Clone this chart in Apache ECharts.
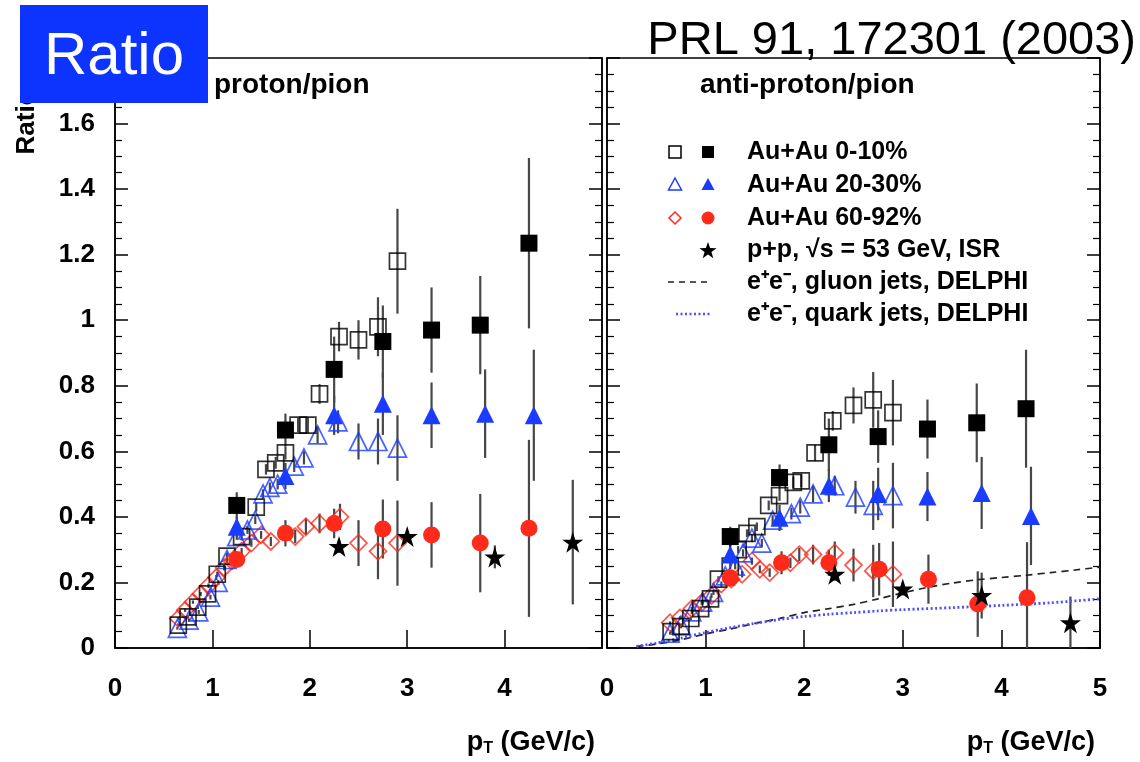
<!DOCTYPE html>
<html><head><meta charset="utf-8">
<script src="https://cdn.jsdelivr.net/npm/echarts/dist/echarts.min.js"></script>
<style>html,body{margin:0;padding:0;background:#fff}#c{width:1140px;height:762px}</style>
</head><body><div id="c"></div>
<script>
// ---------- tick labels ----------
const xTickValues = [0, 1, 2, 3, 4, 5];
const yTickValues = [0, 0.2, 0.4, 0.6, 0.8, 1, 1.2, 1.4, 1.6];

// ---------- proton/pion (left panel): [pT, ratio, error] ----------
const pL_open0010 = [[0.65,0.07,0.005],[0.75,0.095,0.005],[0.85,0.125,0.006],[0.95,0.165,0.007],[1.05,0.225,0.008],[1.15,0.28,0.01],[1.3,0.34,0.012],[1.45,0.43,0.014],[1.55,0.545,0.016],[1.65,0.565,0.018],[1.75,0.595,0.02],[1.88,0.68,0.022],[1.98,0.68,0.025],[2.1,0.775,0.03],[2.3,0.95,0.045],[2.5,0.94,0.06],[2.7,0.98,0.09],[2.9,1.18,0.16]];
const pL_fill0010 = [[1.25,0.435,0.04],[1.75,0.665,0.05],[2.25,0.85,0.1],[2.75,0.935,0.11],[3.25,0.97,0.13],[3.75,0.985,0.15],[4.25,1.235,0.26]];
const pL_open2030 = [[0.64,0.06,0.004],[0.76,0.085,0.005],[0.86,0.11,0.006],[0.98,0.155,0.007],[1.06,0.2,0.008],[1.15,0.27,0.01],[1.25,0.34,0.01],[1.36,0.36,0.012],[1.44,0.39,0.012],[1.52,0.47,0.014],[1.59,0.49,0.015],[1.67,0.5,0.016],[1.84,0.555,0.018],[1.94,0.58,0.02],[2.08,0.65,0.025],[2.29,0.69,0.035],[2.5,0.63,0.055],[2.7,0.63,0.07],[2.9,0.61,0.1]];
const pL_fill2030 = [[1.25,0.37,0.03],[1.75,0.525,0.04],[2.25,0.71,0.06],[2.75,0.745,0.095],[3.25,0.71,0.1],[3.8,0.715,0.135],[4.3,0.71,0.2]];
const pL_open6092 = [[0.65,0.09,0.004],[0.72,0.115,0.005],[0.8,0.14,0.005],[0.88,0.165,0.006],[0.96,0.19,0.007],[1.04,0.215,0.008],[1.12,0.245,0.008],[1.2,0.265,0.009],[1.3,0.295,0.01],[1.4,0.32,0.011],[1.5,0.345,0.012],[1.6,0.325,0.014],[1.85,0.34,0.02],[1.96,0.37,0.025],[2.1,0.38,0.03],[2.31,0.4,0.04],[2.5,0.32,0.07],[2.7,0.295,0.085],[2.9,0.32,0.13]];
const pL_fill6092 = [[1.25,0.27,0.02],[1.75,0.35,0.04],[2.25,0.38,0.045],[2.75,0.363,0.09],[3.25,0.345,0.1],[3.75,0.32,0.15],[4.25,0.365,0.27]];
const pL_pp = [[2.3,0.31,0.02],[3.0,0.34,0.015],[3.9,0.278,0.035],[4.7,0.323,0.19]];

// ---------- anti-proton/pion (right panel) ----------
const pR_open0010 = [[0.65,0.05,0.004],[0.75,0.065,0.005],[0.85,0.09,0.006],[0.95,0.12,0.007],[1.05,0.15,0.008],[1.13,0.21,0.009],[1.25,0.25,0.01],[1.33,0.3,0.011],[1.42,0.35,0.012],[1.52,0.37,0.013],[1.64,0.435,0.015],[1.75,0.465,0.016],[1.89,0.505,0.018],[1.97,0.51,0.02],[2.11,0.595,0.025],[2.29,0.693,0.03],[2.5,0.74,0.055],[2.7,0.757,0.085],[2.9,0.718,0.1]];
const pR_fill0010 = [[1.25,0.34,0.03],[1.75,0.52,0.04],[2.25,0.62,0.08],[2.75,0.645,0.08],[3.25,0.668,0.09],[3.75,0.687,0.12],[4.25,0.73,0.18]];
const pR_open2030 = [[0.64,0.045,0.004],[0.75,0.07,0.005],[0.86,0.11,0.006],[0.97,0.14,0.007],[1.08,0.17,0.008],[1.2,0.22,0.009],[1.3,0.25,0.01],[1.38,0.29,0.011],[1.47,0.335,0.012],[1.57,0.32,0.013],[1.68,0.39,0.015],[1.87,0.41,0.018],[1.96,0.43,0.02],[2.09,0.47,0.025],[2.31,0.495,0.03],[2.52,0.46,0.05],[2.7,0.435,0.075],[2.9,0.465,0.1]];
const pR_fill2030 = [[1.25,0.285,0.03],[1.75,0.397,0.04],[2.25,0.495,0.05],[2.75,0.47,0.08],[3.25,0.462,0.075],[3.8,0.473,0.11],[4.3,0.403,0.15]];
const pR_open6092 = [[0.64,0.077,0.004],[0.74,0.092,0.005],[0.86,0.12,0.005],[0.96,0.138,0.006],[1.06,0.16,0.007],[1.16,0.195,0.008],[1.26,0.21,0.009],[1.37,0.225,0.01],[1.47,0.265,0.011],[1.55,0.24,0.012],[1.65,0.23,0.013],[1.86,0.26,0.016],[1.95,0.285,0.02],[2.09,0.285,0.03],[2.31,0.29,0.035],[2.5,0.253,0.05],[2.7,0.235,0.08],[2.9,0.225,0.1]];
const pR_fill6092 = [[1.25,0.214,0.02],[1.77,0.26,0.035],[2.25,0.26,0.04],[2.76,0.24,0.08],[3.26,0.21,0.075],[3.76,0.134,0.1],[4.26,0.153,0.17]];
const pR_pp = [[2.31,0.225,0.02],[3.0,0.18,0.02],[3.8,0.16,0.07],[4.7,0.077,0.08]];
const gluonJets = [[0.3,0.005],[0.5,0.012],[0.75,0.025],[1.0,0.043],[1.25,0.058],[1.5,0.075],[1.75,0.09],[2.0,0.108],[2.25,0.12],[2.5,0.133],[2.75,0.15],[3.0,0.168],[3.25,0.185],[3.5,0.198],[3.75,0.208],[4.0,0.215],[4.25,0.222],[4.5,0.23],[4.75,0.238],[5.0,0.247]];
const quarkJets = [[0.3,0.005],[0.5,0.015],[0.75,0.03],[1.0,0.047],[1.25,0.062],[1.5,0.075],[1.75,0.087],[2.0,0.096],[2.25,0.103],[2.5,0.108],[2.75,0.113],[3.0,0.117],[3.5,0.123],[4.0,0.13],[4.5,0.138],[5.0,0.15]];

// ---------- style ----------
const FONT = '"Liberation Sans", Arial, Helvetica, sans-serif';
const BLACK = '#000000', BLUE = '#1a3cff', RED = '#ff2a1a', ERRC = '#474747';
const STAR = 'path://M50,0 L61.2,34.5 L97.6,34.5 L68.2,55.9 L79.4,90.5 L50,69.1 L20.6,90.5 L31.8,55.9 L2.4,34.5 L38.8,34.5 Z';

function renderErr(params, api) {
  const x = api.value(0), y = api.value(1), e = api.value(2);
  if (!e) return null;
  const p1 = api.coord([x, Math.max(0, y - e)]);
  const p2 = api.coord([x, y + e]);
  return { type: 'line', shape: { x1: p1[0], y1: p1[1], x2: p2[0], y2: p2[1] },
           style: { stroke: ERRC, lineWidth: 2.2 } };
}
function errSeries(data, gi) {
  return { type: 'custom', xAxisIndex: gi, yAxisIndex: gi * 2, data: data,
           encode: { x: 0, y: 1 }, renderItem: renderErr, silent: true, z: 1, clip: true };
}
function markSeries(data, gi, symbol, size, color, open) {
  return { type: 'scatter', xAxisIndex: gi, yAxisIndex: gi * 2, silent: true, z: 3,
           data: data.map(d => [d[0], d[1]]), symbol: symbol, symbolSize: size,
           itemStyle: open ? { color: 'rgba(0,0,0,0)', borderColor: color, borderWidth: 1.7 }
                           : { color: color, borderWidth: 0, opacity: 1 } };
}
function panelSeries(gi, o10, f10, o20, f20, o60, f60, pp) {
  const all = [o10, f10, o20, f20, o60, f60, pp];
  const s = all.map(d => errSeries(d, gi));
  s.push(markSeries(o60, gi, 'diamond', 17, RED, true));
  s.push(markSeries(o20, gi, 'triangle', 18, BLUE, true));
  s.push(markSeries(o10, gi, 'rect', 16, BLACK, true));
  s.push(markSeries(f60, gi, 'circle', 17, RED, false));
  s.push(markSeries(f20, gi, 'triangle', 18, BLUE, false));
  s.push(markSeries(f10, gi, 'rect', 17, BLACK, false));
  s.push(markSeries(pp, gi, STAR, 21, BLACK, false));
  return s;
}

const series = [].concat(
  panelSeries(0, pL_open0010, pL_fill0010, pL_open2030, pL_fill2030, pL_open6092, pL_fill6092, pL_pp),
  panelSeries(1, pR_open0010, pR_fill0010, pR_open2030, pR_fill2030, pR_open6092, pR_fill6092, pR_pp),
  [
    { type: 'line', xAxisIndex: 1, yAxisIndex: 2, data: gluonJets, showSymbol: false, smooth: 0.3, silent: true, z: 2,
      lineStyle: { color: '#222', width: 1.7, type: [7, 5] } },
    { type: 'line', xAxisIndex: 1, yAxisIndex: 2, data: quarkJets, showSymbol: false, smooth: 0.3, silent: true, z: 2,
      lineStyle: { color: '#4f4fff', width: 2.8, type: [2, 2.5] } }
  ]
);

function xAxisCfg(gi) {
  return { gridIndex: gi, type: 'value', min: xTickValues[0], max: xTickValues[xTickValues.length - 1], interval: 1,
    axisLine: { lineStyle: { color: BLACK, width: 1.5 } },
    axisTick: { inside: true, length: 18, lineStyle: { color: BLACK, width: 1.5 } },
    splitLine: { show: false },
    axisLabel: { color: BLACK, fontFamily: FONT, fontWeight: 'bold', fontSize: 26, margin: 28,
      formatter: v => (gi === 0 && v === 5) ? '' : (xTickValues.indexOf(v) >= 0 ? String(v) : '') } };
}
function yAxisCfg(gi, pos) {
  return { gridIndex: gi, type: 'value', min: 0, max: 1.8, interval: 0.2, position: pos,
    axisLine: { show: true, lineStyle: { color: BLACK, width: 1.5 } },
    axisTick: { inside: true, length: 13, lineStyle: { color: BLACK, width: 1.5 } },
    minorTick: { show: true, splitNumber: 4, length: 7, lineStyle: { color: BLACK, width: 1.2 } },
    splitLine: { show: false }, minorSplitLine: { show: false },
    axisLabel: { show: gi === 0 && pos === 'left', color: BLACK, fontFamily: FONT, fontWeight: 'bold', fontSize: 26, margin: 20,
      formatter: v => { const r = +v.toFixed(1); return yTickValues.indexOf(r) >= 0 ? String(r) : ''; } } };
}

// ---------- legend (graphic) ----------
const legRows = [152, 185, 218, 250, 282, 314];
const xo = 675, xf = 708, xt = 747;
const legFont = 'bold 25px ' + FONT;
const legTexts = ['Au+Au 0-10%', 'Au+Au 20-30%', 'Au+Au 60-92%', 'p+p, \u221As = 53 GeV, ISR',
                  'e\u207Ae\u207B, gluon jets, DELPHI', 'e\u207Ae\u207B, quark jets, DELPHI'];
function starPoints(R, r) {
  const pts = [];
  for (let k = 0; k < 10; k++) {
    const a = -Math.PI / 2 + k * Math.PI / 5, rad = k % 2 ? r : R;
    pts.push([rad * Math.cos(a), rad * Math.sin(a)]);
  }
  return pts;
}
const graphics = [];
legTexts.forEach((t, i) => graphics.push({ type: 'text', x: xt, y: legRows[i], z: 10,
  style: { text: t, font: legFont, fill: BLACK, verticalAlign: 'middle', textVerticalAlign: 'middle' } }));
graphics.push(
  { type: 'rect', x: xo - 6, y: legRows[0] - 6, shape: { width: 12, height: 12 }, style: { fill: 'none', stroke: BLACK, lineWidth: 1.5 }, z: 10 },
  { type: 'rect', x: xf - 6, y: legRows[0] - 6, shape: { width: 12, height: 12 }, style: { fill: BLACK }, z: 10 },
  { type: 'polygon', x: xo, y: legRows[1], shape: { points: [[0, -7], [6.5, 5], [-6.5, 5]] }, style: { fill: 'none', stroke: BLUE, lineWidth: 1.5 }, z: 10 },
  { type: 'polygon', x: xf, y: legRows[1], shape: { points: [[0, -7], [6.5, 5], [-6.5, 5]] }, style: { fill: BLUE }, z: 10 },
  { type: 'polygon', x: xo, y: legRows[2], shape: { points: [[0, -6], [6, 0], [0, 6], [-6, 0]] }, style: { fill: 'none', stroke: RED, lineWidth: 1.5 }, z: 10 },
  { type: 'circle', x: xf, y: legRows[2], shape: { r: 6.5 }, style: { fill: RED }, z: 10 },
  { type: 'polygon', x: xf, y: legRows[3] + 1, shape: { points: starPoints(9, 3.6) }, style: { fill: BLACK }, z: 10 },
  { type: 'line', shape: { x1: 668, y1: legRows[4], x2: 712, y2: legRows[4] }, style: { stroke: '#222', lineWidth: 1.6, lineDash: [6, 5] }, z: 10 },
  { type: 'line', shape: { x1: 676, y1: legRows[5], x2: 712, y2: legRows[5] }, style: { stroke: '#4f4fff', lineWidth: 2.5, lineDash: [2, 2.5] }, z: 10 },
  // panel titles
  { type: 'text', x: 214, y: 85, z: 10, style: { text: 'proton/pion', font: 'bold 28px ' + FONT, fill: BLACK, verticalAlign: 'middle', textVerticalAlign: 'middle' } },
  { type: 'text', x: 700, y: 85, z: 10, style: { text: 'anti-proton/pion', font: 'bold 28px ' + FONT, fill: BLACK, verticalAlign: 'middle', textVerticalAlign: 'middle' } },
  // x axis titles
  { type: 'text', x: 595, y: 743, z: 10, style: { text: '{p|p}{t|T}{p| (GeV/c)}', align: 'right', textAlign: 'right', verticalAlign: 'middle', textVerticalAlign: 'middle',
      rich: { p: { font: 'bold 27px ' + FONT, fill: BLACK, color: BLACK }, t: { font: 'bold 16px ' + FONT, fill: BLACK, color: BLACK, verticalAlign: 'bottom' } } } },
  { type: 'text', x: 1095, y: 743, z: 10, style: { text: '{p|p}{t|T}{p| (GeV/c)}', align: 'right', textAlign: 'right', verticalAlign: 'middle', textVerticalAlign: 'middle',
      rich: { p: { font: 'bold 27px ' + FONT, fill: BLACK, color: BLACK }, t: { font: 'bold 16px ' + FONT, fill: BLACK, color: BLACK, verticalAlign: 'bottom' } } } },
  // y axis title
  { type: 'text', x: 27, y: 122, rotation: Math.PI / 2, z: 10, style: { text: 'Ratio', font: 'bold 26px ' + FONT, fill: BLACK, align: 'center', textAlign: 'center', verticalAlign: 'middle', textVerticalAlign: 'middle' } },
  // blue label box
  { type: 'rect', x: 20, y: 5, shape: { width: 188, height: 98 }, style: { fill: '#0d33ff' }, z: 20 },
  { type: 'text', x: 114, y: 57, z: 21, style: { text: 'Ratio', font: '60px ' + FONT, fill: '#ffffff', align: 'center', textAlign: 'center', verticalAlign: 'middle', textVerticalAlign: 'middle' } },
  // reference
  { type: 'text', x: 1136, y: 41, z: 10, style: { text: 'PRL 91, 172301 (2003)', font: '47px ' + FONT, fill: BLACK, align: 'right', textAlign: 'right', verticalAlign: 'middle', textVerticalAlign: 'middle' } }
);

const chart = echarts.init(document.getElementById('c'), null, { renderer: 'canvas' });
chart.setOption({
  animation: false,
  backgroundColor: '#ffffff',
  grid: [
    { left: 115, top: 58, width: 487, height: 590, show: true, borderColor: BLACK, borderWidth: 1.5, backgroundColor: 'transparent' },
    { left: 607, top: 58, width: 493, height: 590, show: true, borderColor: BLACK, borderWidth: 1.5, backgroundColor: 'transparent' }
  ],
  xAxis: [xAxisCfg(0), xAxisCfg(1)],
  yAxis: [yAxisCfg(0, 'left'), yAxisCfg(0, 'right'), yAxisCfg(1, 'left'), yAxisCfg(1, 'right')],
  series: series,
  graphic: graphics
});
</script></body></html>
